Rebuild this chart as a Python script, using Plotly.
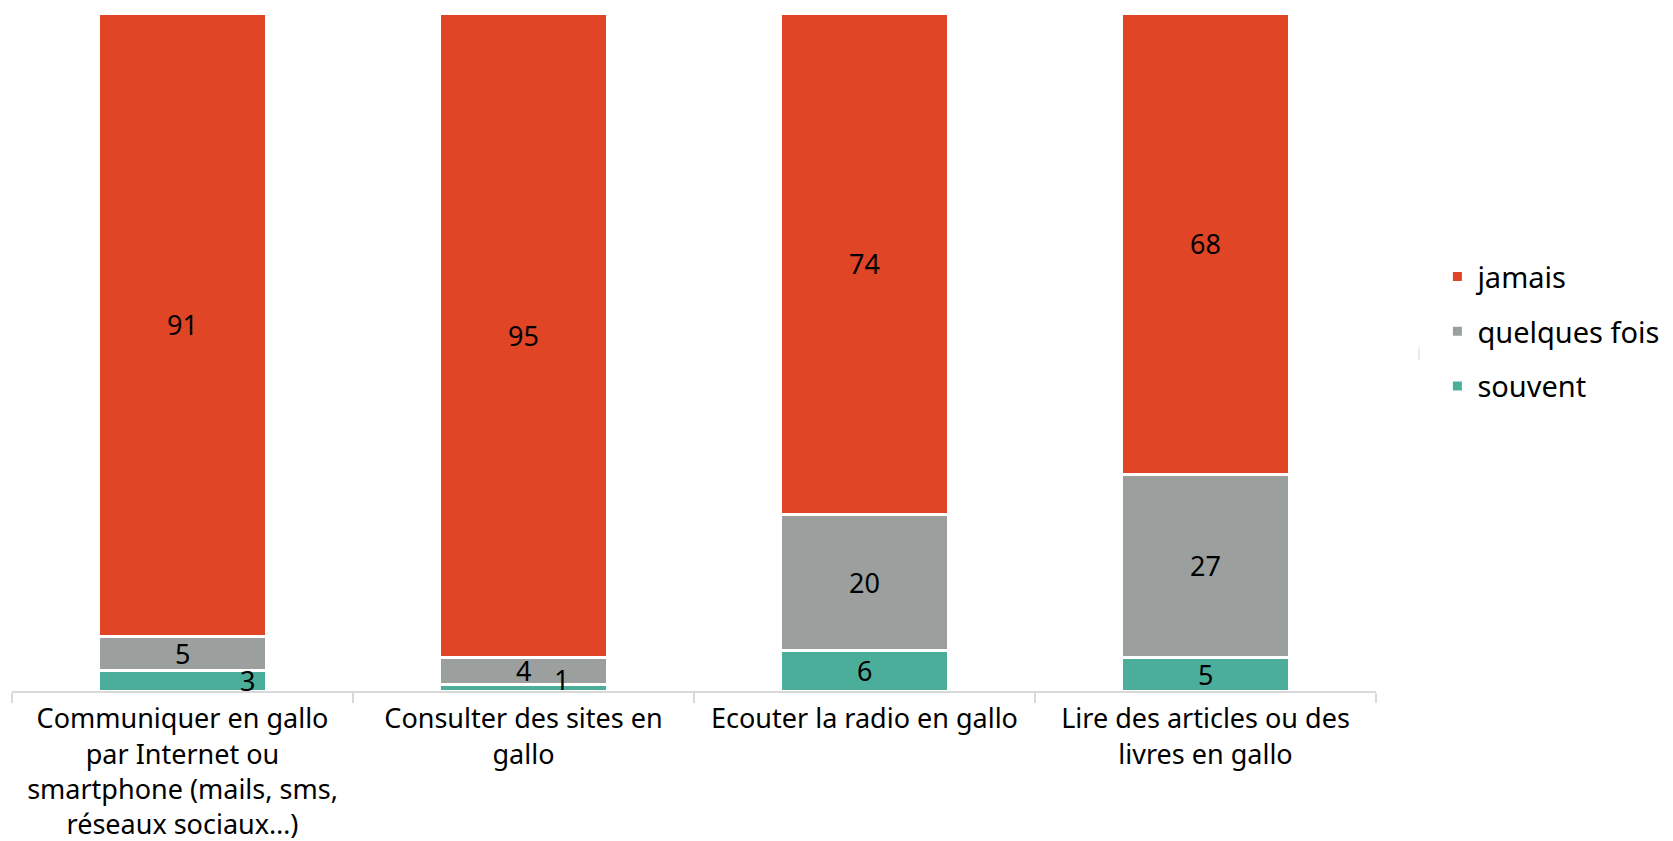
import plotly.graph_objects as go

categories = [
    "Communiquer en gallo<br>par Internet ou<br>smartphone (mails, sms,<br>réseaux sociaux…)",
    "Consulter des sites en<br>gallo",
    "Ecouter la radio en gallo",
    "Lire des articles ou des<br>livres en gallo",
]
souvent = [3, 1, 6, 5]
quelques_fois = [5, 4, 20, 27]
jamais = [91, 95, 74, 68]

series = [
    ("souvent", souvent, "rgb(74,174,155)", 3),
    ("quelques fois", quelques_fois, "rgb(155,160,159)", 2),
    ("jamais", jamais, "rgb(224,69,38)", 1),
]

# label nudges (Excel places tiny-segment labels off-centre)
label_xshift = {("souvent", 0): 65, ("souvent", 1): 38}
label_yshift = {("souvent", 1): 8}

FONT = "Noto Sans"
fig = go.Figure()
for name, vals, col, rank in series:
    fig.add_trace(go.Bar(
        x=categories, y=vals, name=name,
        marker=dict(color=col, line=dict(color="white", width=3)),
        legendgroup=name, legendrank=rank, width=0.49,
    ))

# data labels at segment centres (normalised to 100%)
totals = [sum(s[1][j] for s in series) for j in range(len(categories))]
for j, cat in enumerate(categories):
    base = 0.0
    for name, vals, col, rank in series:
        h = vals[j] / totals[j] * 100
        fig.add_annotation(
            x=cat, y=base + h / 2, text=str(vals[j]), showarrow=False,
            font=dict(family=FONT, size=27, color="black"),
            xshift=label_xshift.get((name, j), 0),
            yshift=label_yshift.get((name, j), 0),
        )
        base += h

fig.update_layout(
    barmode="stack", barnorm="percent",
    width=1665, height=833,
    margin=dict(l=4, r=297, t=5, b=150),
    paper_bgcolor="white", plot_bgcolor="white",
    font=dict(family=FONT, size=27, color="black"),
    showlegend=True,
    legend=dict(
        x=1.045, y=0.530, xanchor="left", yanchor="middle",
        traceorder="grouped", tracegroupgap=14,
        font=dict(family=FONT, size=29, color="black"),
        itemwidth=30,
    ),
    xaxis=dict(
        showline=True, linecolor="#D9D9D9", linewidth=2,
        ticks="outside", tickson="boundaries", ticklen=10, tickcolor="#D9D9D9",
        tickwidth=2, tickfont=dict(family=FONT, size=27), showgrid=False,
        ticklabelstandoff=3, automargin=False,
    ),
    yaxis=dict(visible=False, range=[0, 100], showgrid=False, automargin=False),
)
fig.add_shape(type="line", xref="paper", yref="paper",
              x0=1.0315, x1=1.0315, y0=0.488, y1=0.507,
              line=dict(color="#D9D9D9", width=1))

fig.write_html("out.html")
